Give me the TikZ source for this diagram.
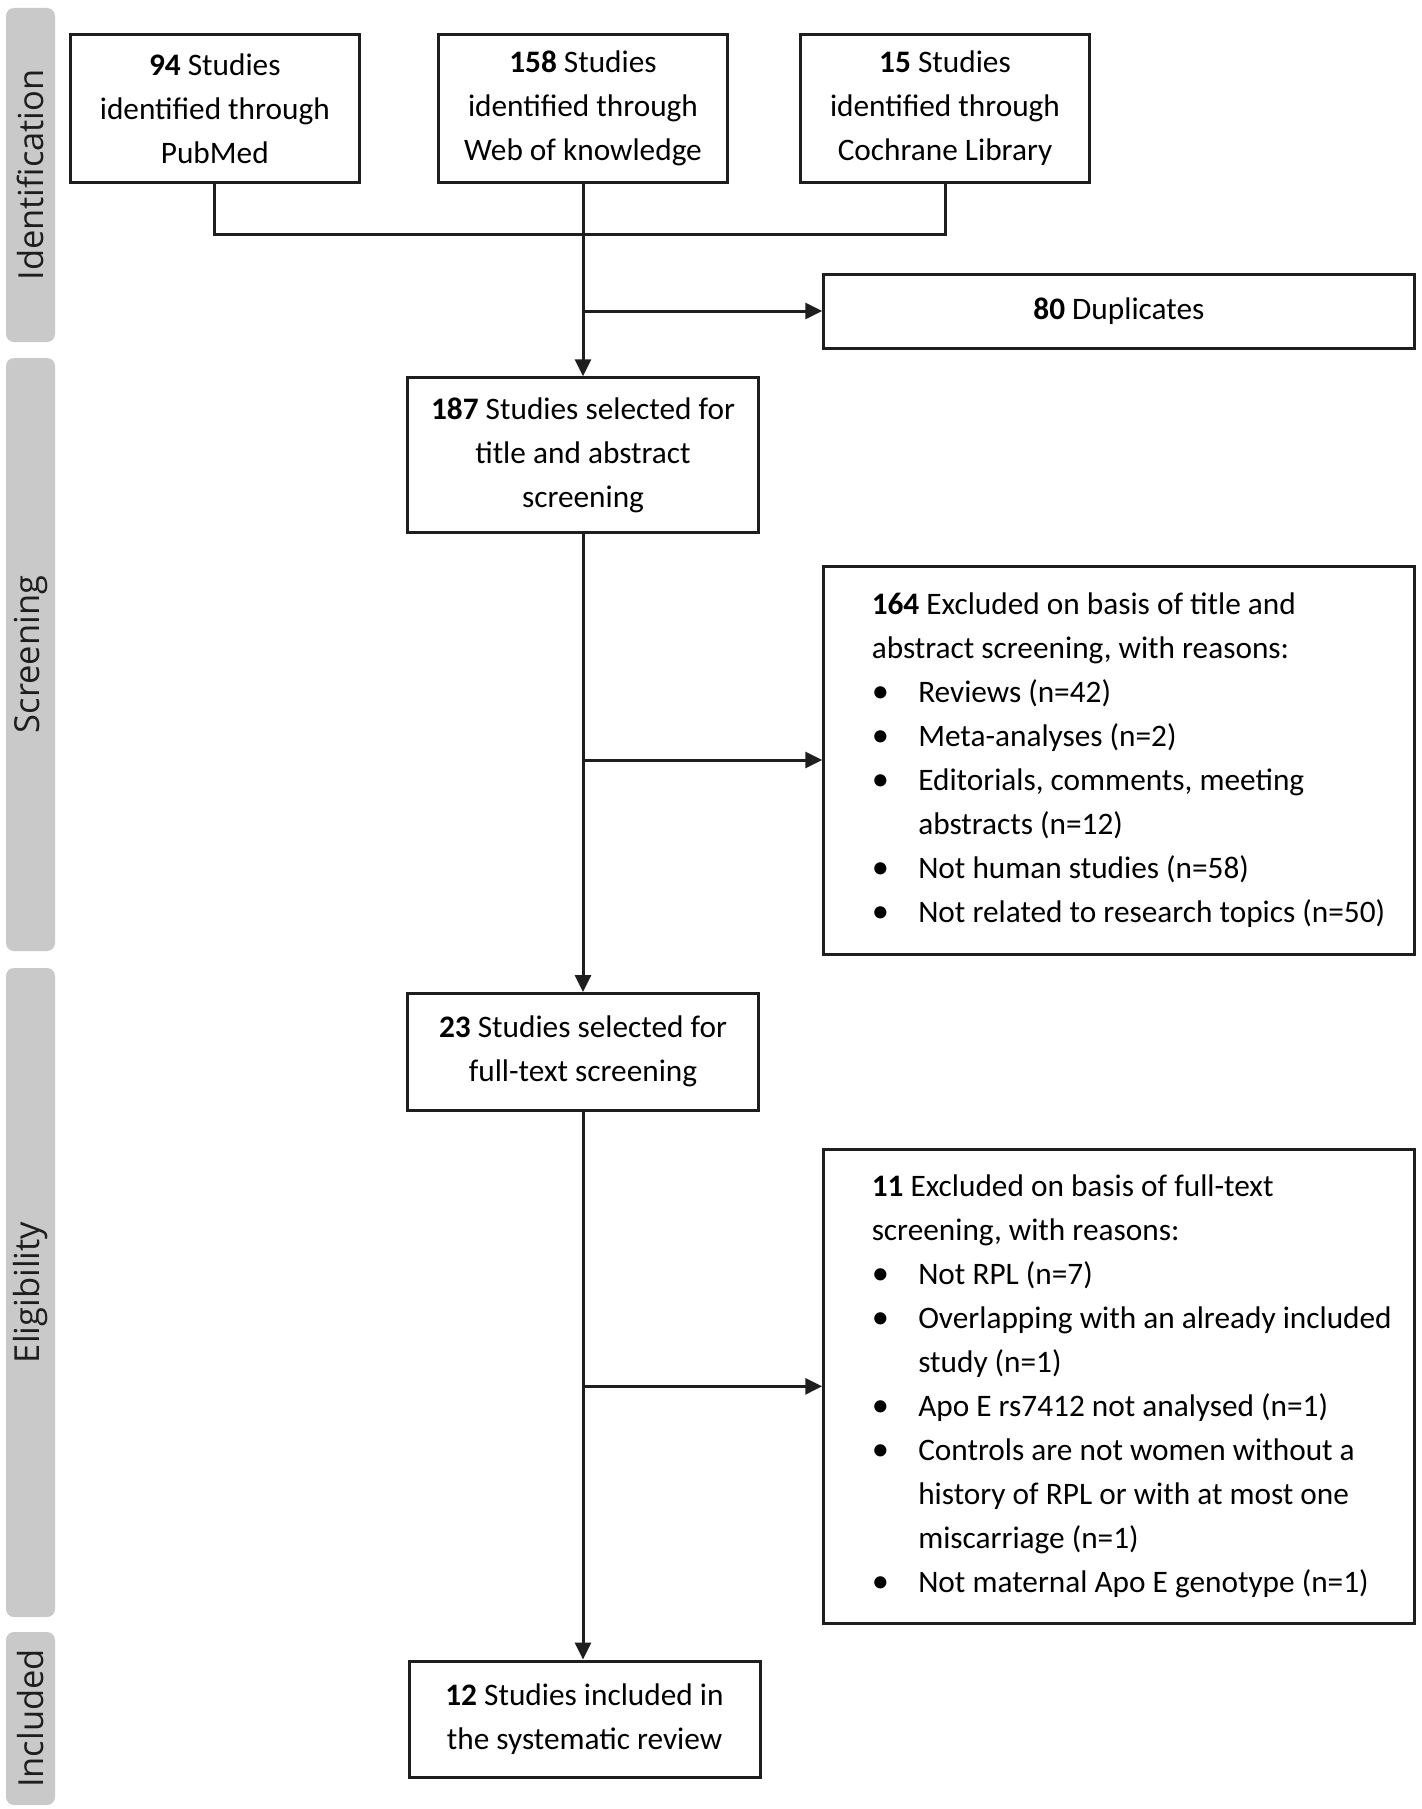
\documentclass[tikz,border=0pt]{standalone}
\usepackage{fontspec}
\setmainfont{Carlito}
\newfontfamily\bandfont{Open Sans}
\usetikzlibrary{arrows.meta}
\definecolor{bandgray}{HTML}{C9C9C9}
\definecolor{ink}{HTML}{1E1E1E}
\newcommand{\boxfont}{\fontsize{31.3}{44}\selectfont}
\newcommand{\bul}[1]{\makebox[46.5pt][l]{\scalebox{1.1}{\textbullet}}\mbox{#1}}
\newcommand{\cont}[1]{\hspace*{46.5pt}\mbox{#1}}
\newcommand{\lineof}[1]{\mbox{#1}}
\begin{document}
\begin{tikzpicture}[x=1pt,y=-1pt,
  box/.style={draw=ink, line width=3pt, fill=white, inner sep=0pt, text=black,
    font=\boxfont, align=center,
    execute at begin node={\spaceskip=0pt\xspaceskip=0pt\relax}},
  exbox/.style={box, align=left, text width=494.3pt, inner xsep=48pt},
  band/.style={fill=bandgray, rounded corners=8pt, inner sep=0pt, rotate=90,
    minimum height=49pt, text=ink, font=\bandfont\fontsize{34.5}{34.5}\selectfont},
  conn/.style={line width=3pt, draw=ink},
  arr/.style={conn, -{Triangle[length=17pt,width=16pt]}}]
\useasboundingbox (0,0) rectangle (1421,1809);
\fill[white] (0,0) rectangle (1421,1809);

% side bands
\node[band, minimum width=334pt] (bandI) at (30.5,175) {Identification};
\node[band, minimum width=593pt] (bandS) at (30.5,654.5) {Screening};
\node[band, minimum width=649pt] (bandE) at (30.5,1292.5) {Eligibility};
\node[band, minimum width=173pt] (bandN) at (30.5,1718.5) {Included};

% identification boxes
\node[box, minimum width=288.5pt, minimum height=148.5pt] (pub) at (214.8,108.5)
  {\textbf{94} Studies\\identified through\\PubMed};
\node[box, minimum width=288.5pt, minimum height=148.5pt] (wok) at (583,108.5)
  {\textbf{158} Studies\\identified through\\Web of knowledge};
\node[box, minimum width=289pt, minimum height=148.5pt] (coch) at (945,108.5)
  {\textbf{15} Studies\\identified through\\Cochrane Library};

\node[box, minimum width=590.3pt, minimum height=74pt] (dup) at (1118.9,311)
  {\textbf{80} Duplicates};

\node[box, minimum width=351.3pt, minimum height=154.8pt] (s187) at (583,455.2)
  {\textbf{187} Studies selected for\\title and abstract\\screening};

\node[exbox, minimum height=388pt] (ex164) at (1118.9,760)
  {\lineof{\textbf{164} Excluded on basis of title and}\\
   \lineof{abstract screening, with reasons:}\\
   \bul{Reviews (n=42)}\\
   \bul{Meta-analyses (n=2)}\\
   \bul{Editorials, comments, meeting}\\
   \cont{abstracts (n=12)}\\
   \bul{Not human studies (n=58)}\\
   \bul{Not related to research topics (n=50)}};

\node[box, minimum width=351.3pt, minimum height=116.4pt] (s23) at (583,1051.8)
  {\textbf{23} Studies selected for\\full-text screening};

\node[exbox, minimum height=473.5pt] (ex11) at (1118.9,1386.3)
  {\lineof{\textbf{11} Excluded on basis of full-text}\\
   \lineof{screening, with reasons:}\\
   \bul{Not RPL (n=7)}\\
   \bul{Overlapping with an already included}\\
   \cont{study (n=1)}\\
   \bul{Apo E rs7412 not analysed (n=1)}\\
   \bul{Controls are not women without a}\\
   \cont{history of RPL or with at most one}\\
   \cont{miscarriage (n=1)}\\
   \bul{Not maternal Apo E genotype (n=1)}};

\node[box, minimum width=351pt, minimum height=116pt] (inc12) at (584.5,1719)
  {\textbf{12} Studies included in\\the systematic review};

% connectors
\coordinate (jpub) at (pub.south |- 0,234.5);
\coordinate (jcoch) at (coch.south |- 0,234.5);
\draw[conn] (pub.south) -- (jpub) -- (jcoch) -- (coch.south);
\draw[arr] (wok.south) -- (s187.north);
\coordinate (b1) at (wok.south |- dup.west);
\draw[arr] (b1) -- (dup.west);
\draw[arr] (s187.south) -- (s23.north);
\coordinate (b2) at (s187.south |- ex164.west);
\draw[arr] (b2) -- (ex164.west);
\draw[arr] (s23.south) -- (s23.south |- inc12.north);
\coordinate (b3) at (s23.south |- ex11.west);
\draw[arr] (b3) -- (ex11.west);
\end{tikzpicture}
\end{document}
